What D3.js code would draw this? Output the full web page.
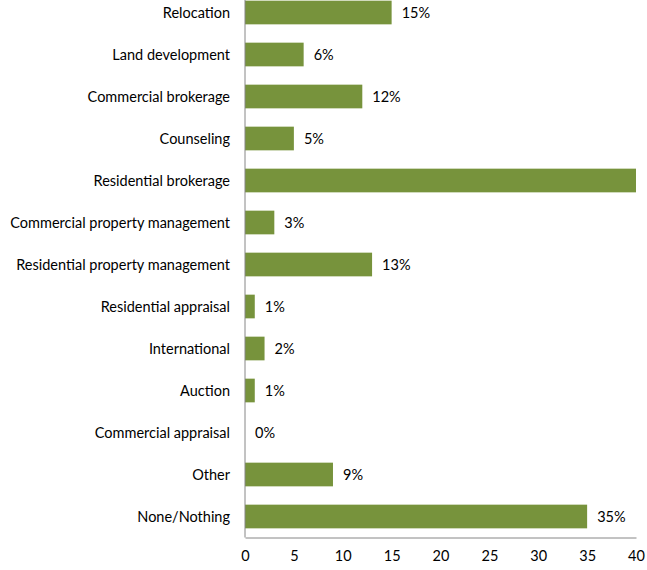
<!DOCTYPE html>
<html><head><meta charset="utf-8">
<script src="https://cdn.jsdelivr.net/npm/d3@7"></script>
<style>body{margin:0;background:#fff}svg{display:block}</style>
</head><body>
<script>
const categories = ["Relocation","Land development","Commercial brokerage","Counseling","Residential brokerage","Commercial property management","Residential property management","Residential appraisal","International","Auction","Commercial appraisal","Other","None/Nothing"];
const values = [15,6,12,5,40,3,13,1,2,1,0,9,35];
const valueLabels = ["15%","6%","12%","5%",null,"3%","13%","1%","2%","1%","0%","9%","35%"];
const xTicks = [0,5,10,15,20,25,30,35,40];

const W=647,H=570;
const svg=d3.select("body").append("svg").attr("width",W).attr("height",H);
const font="Lato, 'Open Sans', sans-serif";
const fs=14.5;
const x=d3.scaleLinear().domain([0,40]).range([245,636]);
const y=d3.scaleBand().domain(categories).range([-8.5,537.5]).paddingInner(0.436).paddingOuter(0.218);

svg.append("g").selectAll("rect").data(categories).join("rect")
  .attr("x",x(0)).attr("y",d=>y(d)).attr("height",y.bandwidth())
  .attr("width",(d,i)=>Math.max(0,x(Math.min(values[i],40))-x(0)))
  .attr("fill","#77933C");

svg.append("g").selectAll("text").data(categories).join("text")
  .attr("x",230).attr("y",d=>y(d)+y.bandwidth()/2).attr("dy","0.35em")
  .attr("text-anchor","end").attr("font-family",font).attr("font-size",fs).attr("fill","#000")
  .text(d=>d);

svg.append("g").selectAll("text").data(categories.filter((d,i)=>valueLabels[i]!==null)).join("text")
  .attr("x",d=>x(values[categories.indexOf(d)])+10).attr("y",d=>y(d)+y.bandwidth()/2).attr("dy","0.35em")
  .attr("font-family",font).attr("font-size",fs).attr("fill","#000")
  .text(d=>valueLabels[categories.indexOf(d)]);

const ax=svg.append("g").attr("transform","translate(0,537.5)")
  .call(d3.axisBottom(x).tickValues(xTicks).tickSize(0).tickPadding(13));
ax.select(".domain").attr("stroke","#868686");
ax.selectAll("text").attr("font-family",font).attr("font-size",fs).attr("fill","#000");

svg.append("line").attr("x1",245).attr("x2",245).attr("y1",-8).attr("y2",537.5).attr("stroke","#868686");
</script>
</body></html>
